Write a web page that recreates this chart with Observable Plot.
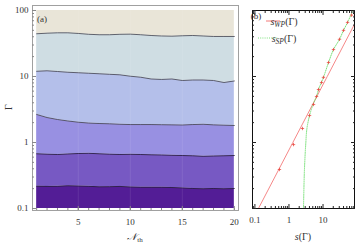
<!DOCTYPE html>
<html><head><meta charset="utf-8">
<script src="https://cdn.jsdelivr.net/npm/d3@7"></script>
<script src="https://cdn.jsdelivr.net/npm/@observablehq/plot@0.6"></script>
<style>
body{margin:0;background:#fff;}
#wrap{position:relative;width:359px;height:246px;overflow:hidden;}
#wrap svg{position:absolute;left:0;top:0;}
</style></head><body><div id="wrap"></div>
<script>
// ---- Panel (a): contour boundaries of Gamma vs N_th ----
const nth = [1,2,3,4,5,6,7,8,9,10,11,12,13,14,15,16,17,18,19,20];
const b1 = [0.218,0.216,0.217,0.221,0.219,0.217,0.213,0.214,0.216,0.212,0.210,0.210,0.210,0.208,0.205,0.201,0.199,0.201,0.199,0.201];
const b2 = [0.675,0.665,0.658,0.670,0.681,0.686,0.675,0.665,0.658,0.663,0.658,0.651,0.647,0.640,0.635,0.629,0.618,0.624,0.629,0.635];
const b3 = [2.66,2.39,2.23,2.12,2.03,1.97,1.94,1.92,1.89,1.87,1.87,1.87,1.86,1.85,1.84,1.87,1.89,1.85,1.83,1.81];
const b4 = [12.0,12.2,11.9,11.6,11.4,11.2,11.0,10.8,10.6,10.1,9.75,9.17,9.02,9.17,8.70,8.85,8.85,8.70,8.11,8.55];
const b5 = [44.4,45.3,45.9,45.9,44.9,43.6,42.9,42.9,43.6,43.8,42.9,41.8,41.1,40.8,41.4,41.8,41.1,40.4,40.4,40.4];
const gammaMin = 0.1, gammaMax = 100;
const bandColors = ["#531d96","#7759c3","#9890e2","#b4bfea","#cfdde3","#e9e5d8"];

// ---- Panel (b): s(Gamma) ----
const gammaWP = [0.1, 1, 10, 62];
const sWP     = [0.127, 1.30, 13.3, 84];
const gammaSP = [0.1, 0.39, 1.0, 1.63, 2.56, 3.77, 4.98, 6.35, 9.7, 16.3, 25.6, 36.6, 50, 66, 100];
const sSP     = [2.67, 2.85, 3.13, 3.37, 4.02, 5.1, 6.46, 7.37, 10.3, 14.5, 20.3, 30.5, 40, 52.5, 75];
const gammaPts = [0.39, 0.93, 1.63, 2.56, 3.77, 4.98, 6.35, 8.1, 9.7, 16.3, 25.6, 36.6, 50, 66, 85];
const sPts     = [0.526, 1.36, 2.49, 4.02, 5.27, 6.46, 7.37, 9.05, 10.3, 14.5, 20.3, 30.5, 40, 52.5, 69];

// ---- ticks ----
const aXMajor = [5,10,15,20];
const aXMinor = nth;
const yMajor = [0.1,1,10,100];
const yMinor = [0.2,0.3,0.4,0.5,0.6,0.7,0.8,0.9,2,3,4,5,6,7,8,9,20,30,40,50,60,70,80,90];
const bXMajor = [0.1,1,10];
const bXMinor = [0.09,0.2,0.3,0.4,0.5,0.6,0.7,0.8,0.9,2,3,4,5,6,7,8,9,20,30,40,50,60,70,80];

const rows = nth.map((n,i)=>({n, lv:[gammaMin,b1[i],b2[i],b3[i],b4[i],b5[i],gammaMax]}));
const bounds = [b1,b2,b3,b4,b5];

const font = {fontFamily:"'Liberation Serif', 'DejaVu Serif', serif", fontSize:"9px", background:"transparent", overflow:"visible"};
const plus = {draw(ctx, size){const r=Math.sqrt(size/Math.PI); ctx.moveTo(-r,0); ctx.lineTo(r,0); ctx.moveTo(0,-r); ctx.lineTo(0,r);}};

const wrap = document.getElementById("wrap");

// Panel (a)
const bandMarks = bandColors.map((c,k)=>Plot.areaY(rows,{x:"n", y1:d=>d.lv[k], y2:d=>d.lv[k+1], fill:c}));
const lineMarks = bounds.map((b,k)=>Plot.line(nth.map((n,i)=>({n, g:b[i]})),{x:"n", y:"g", stroke: k<2 ? "#2a2040" : "#4a4a55", strokeWidth:0.85}));
const pa = Plot.plot({
  width:359, height:246, marginLeft:32, marginRight:121, marginTop:5, marginBottom:36,
  style: font,
  x:{domain:[0.6,20.4], label:null},
  y:{type:"log", domain:[0.0933,119], label:null},
  marks:[
    ...bandMarks,
    Plot.ruleX([5,10,15],{stroke:"#fff", strokeOpacity:0.09, y1:gammaMin, y2:gammaMax}),
    ...lineMarks,
    Plot.frame({stroke:"#a0a0a0"}),
    Plot.axisX(aXMinor,{anchor:"bottom", tickSize:-2, tickFormat:()=>"", stroke:"#888", label:null}),
    Plot.axisX(aXMajor,{anchor:"bottom", tickSize:-4, tickFormat:()=>"", stroke:"#888", label:null}),
    Plot.axisX(aXMajor,{anchor:"bottom", tickSize:0, tickPadding:8, tickFormat:d=>String(d), fill:"#333", label:null}),
    Plot.axisY(yMinor,{anchor:"left", tickSize:-2, tickFormat:()=>"", stroke:"#888", label:null}),
    Plot.axisY(yMajor,{anchor:"left", tickSize:-4, tickFormat:()=>"", stroke:"#888", label:null}),
    Plot.axisY(yMajor,{anchor:"left", tickSize:0, tickPadding:4, tickFormat:d=>String(d), fill:"#333", label:null})
  ]
});
wrap.appendChild(pa);

// Panel (b)
const wp = gammaWP.map((g,i)=>({g, s:sWP[i]}));
const sp = gammaSP.map((g,i)=>({g, s:sSP[i]}));
const pts = gammaPts.map((g,i)=>({g, s:sPts[i]}));
const pb = Plot.plot({
  width:359, height:246, marginLeft:252, marginRight:5, marginTop:10, marginBottom:38,
  style: font,
  x:{type:"log", domain:[0.085,84], label:null},
  y:{type:"log", domain:[0.1,100], label:null},
  marks:[
    Plot.line(wp,{x:"s", y:"g", stroke:"#f26a6a", strokeWidth:0.8, clip:true}),
    Plot.line(sp,{x:"s", y:"g", stroke:"#6ddc6d", strokeWidth:0.9, strokeDasharray:"1,1.2", curve:"catmull-rom", clip:true}),
    Plot.dot(pts,{x:"s", y:"g", symbol:plus, r:1.7, stroke:"#e8443c", strokeWidth:0.75}),
    Plot.frame({stroke:"#111"}),
    Plot.axisX(bXMinor,{anchor:"bottom", tickSize:-2, tickFormat:()=>"", stroke:"#222", label:null}),
    Plot.axisX(bXMajor,{anchor:"bottom", tickSize:-4, tickFormat:()=>"", stroke:"#222", label:null}),
    Plot.axisX(bXMinor,{anchor:"top", tickSize:-2, tickFormat:()=>"", stroke:"#222", label:null}),
    Plot.axisX(bXMajor,{anchor:"top", tickSize:-4, tickFormat:()=>"", stroke:"#222", label:null}),
    Plot.axisX(bXMajor,{anchor:"bottom", tickSize:0, tickPadding:8, tickFormat:d=>String(d), fill:"#333", label:null}),
    Plot.axisY(yMinor,{anchor:"left", tickSize:-2, tickFormat:()=>"", stroke:"#222", label:null}),
    Plot.axisY(yMajor,{anchor:"left", tickSize:-4, tickFormat:()=>"", stroke:"#222", label:null}),
    Plot.axisY(yMinor,{anchor:"right", tickSize:-2, tickFormat:()=>"", stroke:"#222", label:null}),
    Plot.axisY(yMajor,{anchor:"right", tickSize:-4, tickFormat:()=>"", stroke:"#222", label:null})
  ]
});
wrap.appendChild(pb);

// Text labels
const sa = d3.select(pa), sb = d3.select(pb);
const ff = "'Liberation Serif', 'DejaVu Serif', serif";
sa.append("text").attr("transform","translate(10,107) rotate(-90)").attr("text-anchor","middle")
  .attr("dominant-baseline","middle").attr("font-family",ff).attr("font-size",10).attr("fill","#333").text("Γ");
const tn = sa.append("text").attr("x",135).attr("y",240).attr("text-anchor","middle").attr("font-family",ff).attr("fill","#333");
tn.append("tspan").attr("font-size",10).attr("font-style","italic").text("𝒩");
tn.append("tspan").attr("font-size",7).attr("dy",2).text("th");
sa.append("text").attr("x",42).attr("y",22).attr("font-family",ff).attr("font-size",9).attr("fill","#333").text("(a)");

const ts = sb.append("text").attr("x",303).attr("y",240).attr("text-anchor","middle").attr("font-family",ff).attr("font-size",10).attr("fill","#333");
ts.append("tspan").attr("font-style","italic").text("s");
ts.append("tspan").text("(Γ)");
sb.append("text").attr("x",256).attr("y",19).attr("font-family",ff).attr("font-size",9).attr("fill","#333").text("(b)");
sb.append("line").attr("x1",266).attr("x2",280).attr("y1",21).attr("y2",21).attr("stroke","#f26a6a").attr("stroke-width",0.9);
sb.append("line").attr("x1",258).attr("x2",278).attr("y1",38).attr("y2",38).attr("stroke","#6ddc6d").attr("stroke-width",0.9).attr("stroke-dasharray","1,1.2");
function legendText(y, sub){
  const t = sb.append("text").attr("x",284).attr("y",y).attr("font-family",ff).attr("font-size",10).attr("fill","#333");
  t.append("tspan").attr("font-style","italic").text("s");
  t.append("tspan").attr("font-style","italic").attr("font-size",7.5).attr("dy",2).text(sub);
  t.append("tspan").attr("dy",-2).text("(Γ)");
}
legendText(25,"WP");
legendText(42,"SP");
</script></body></html>
